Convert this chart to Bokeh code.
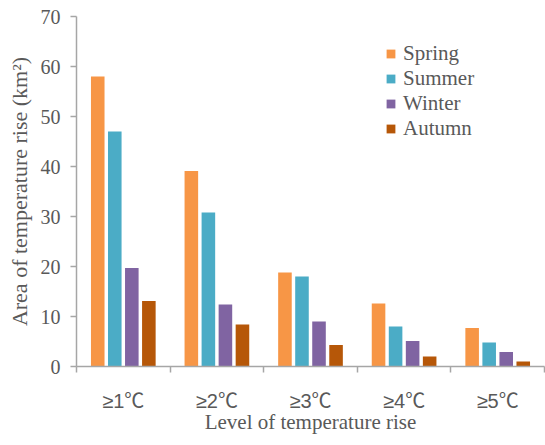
from bokeh.plotting import figure
from bokeh.models import (ColumnDataSource, Range1d, FixedTicker, Legend, LegendItem)
from bokeh.transform import dodge
from bokeh.embed import file_html
from bokeh.resources import INLINE

categories = ["≥1℃", "≥2℃", "≥3℃", "≥4℃", "≥5℃"]
seasons = ["Spring", "Summer", "Winter", "Autumn"]
spring = [58.0, 39.1, 18.8, 12.6, 7.7]
summer = [47.0, 30.8, 18.0, 8.0, 4.8]
winter = [19.7, 12.4, 9.0, 5.1, 2.9]
autumn = [13.1, 8.4, 4.3, 2.0, 1.0]
y_ticks = [0, 10, 20, 30, 40, 50, 60, 70]

colors = ["#F79646", "#4BACC6", "#8064A2", "#B65708"]
offsets = [-0.273, -0.091, 0.091, 0.273]

centers = [i + 0.5 for i in range(len(categories))]
src = ColumnDataSource(dict(x=centers, Spring=spring, Summer=summer,
                            Winter=winter, Autumn=autumn))

p = figure(width=545, height=445, output_backend="svg", toolbar_location=None,
           x_range=Range1d(0, len(categories)), y_range=Range1d(0, 70),
           min_border_left=76, min_border_right=1, min_border_top=16,
           min_border_bottom=79)
p.outline_line_color = None
p.xgrid.visible = False
p.ygrid.visible = False

renderers = []
for s, c, o in zip(seasons, colors, offsets):
    r = p.vbar(x=dodge("x", o, range=p.x_range), top=s, width=0.145,
               source=src, fill_color=c, line_color=None)
    renderers.append(r)

axis_col = "#A6A6A6"
label_col = "#595959"

xa = p.xaxis[0]
xa.ticker = FixedTicker(ticks=centers, minor_ticks=list(range(len(categories) + 1)))
xa.major_label_overrides = {c: lab for c, lab in zip(centers, categories)}
xa.major_tick_out = 0
xa.major_tick_in = 0
xa.minor_tick_out = 6
xa.minor_tick_in = 0
xa.minor_tick_line_color = axis_col
xa.minor_tick_line_width = 1.5
xa.axis_line_color = axis_col
xa.axis_line_width = 1.5
xa.major_label_text_font = "Liberation Sans, Noto Sans CJK SC"
xa.major_label_text_font_size = "20px"
xa.major_label_text_color = label_col
xa.major_label_standoff = 17
xa.axis_label = "Level of temperature rise"
xa.axis_label_text_font = "Liberation Serif"
xa.axis_label_text_font_size = "21px"
xa.axis_label_text_font_style = "normal"
xa.axis_label_text_color = label_col
xa.axis_label_standoff = -5

ya = p.yaxis[0]
ya.ticker = FixedTicker(ticks=y_ticks, minor_ticks=[])
ya.major_tick_out = 6
ya.major_tick_in = 0
ya.major_tick_line_color = axis_col
ya.major_tick_line_width = 1.5
ya.axis_line_color = axis_col
ya.axis_line_width = 1.5
ya.major_label_text_font = "Liberation Serif"
ya.major_label_text_font_size = "20px"
ya.major_label_text_color = label_col
ya.major_label_standoff = 10
ya.axis_label = "Area of temperature rise (km²)"
ya.axis_label_text_font = "Liberation Serif"
ya.axis_label_text_font_size = "22px"
ya.axis_label_text_font_style = "normal"
ya.axis_label_text_color = label_col
ya.axis_label_standoff = 6

legend = Legend(items=[LegendItem(label=s, renderers=[r]) for s, r in zip(seasons, renderers)],
                location=(309, 225), orientation="vertical",
                glyph_width=11, glyph_height=11, label_height=25, spacing=0,
                padding=0, margin=0, label_standoff=7,
                label_text_font="Liberation Serif", label_text_font_size="21px",
                label_text_color=label_col, border_line_color=None,
                background_fill_alpha=0)
p.add_layout(legend, "center")

open("out.html", "w").write(file_html(p, INLINE))
